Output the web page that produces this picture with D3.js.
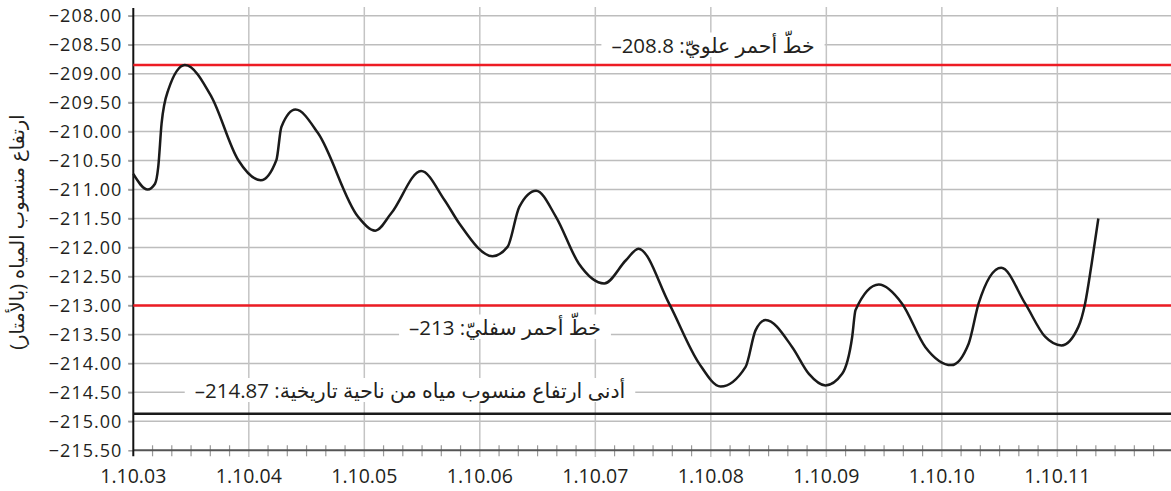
<!DOCTYPE html>
<html>
<head>
<meta charset="utf-8">
<script src="https://cdn.jsdelivr.net/npm/d3@7"></script>
<style>
  body { margin: 0; background: #fff; }
  svg { display: block; font-family: "Open Sans", "DejaVu Sans", sans-serif; }
</style>
</head>
<body>
<div id="chart"></div>
<script>
// years since 1.10.03 and water level (m)
var years = [0, 0.124, 0.188, 0.216, 0.245, 0.303, 0.447, 0.677, 0.908, 1.104, 1.239, 1.282, 1.404,
  1.6, 1.946, 2.095, 2.233, 2.492, 2.694, 2.824, 3.11, 3.24, 3.342, 3.487, 3.659, 3.858, 4.077,
  4.265, 4.373, 4.639, 4.898, 5.085, 5.301, 5.387, 5.474, 5.705, 5.849, 5.993, 6.137, 6.224, 6.253,
  6.454, 6.656, 6.858, 7.082, 7.232, 7.318, 7.514, 7.722, 7.894, 8.036, 8.182, 8.24, 8.297, 8.355]
var levels = [-210.73, -211.0, -210.9, -210.61, -209.86, -209.28, -208.85, -209.4, -210.49, -210.84,
  -210.49, -209.92, -209.62, -210.03, -211.47, -211.71, -211.41, -210.68, -211.18, -211.59, -212.15,
  -211.99, -211.3, -211.02, -211.47, -212.28, -212.62, -212.22, -212.02, -212.97, -214.0, -214.4, -214.06,
  -213.43, -213.25, -213.72, -214.18, -214.38, -214.18, -213.54, -213.08, -212.64, -212.97, -213.72, -214.03,
  -213.66, -212.97, -212.35, -212.97, -213.54, -213.69, -213.37, -212.97, -212.28, -211.5]

var xLabels = ["1.10.03", "1.10.04", "1.10.05", "1.10.06", "1.10.07", "1.10.08", "1.10.09", "1.10.10", "1.10.11"]
var yTicks = d3.range(-215.5, -207.99, 0.5)

var refValues = [-208.85, -213, -214.87]
var refLabels = ["خطّ أحمر علويّ: 208.8–", "خطّ أحمر سفليّ: 213–", "أدنى ارتفاع منسوب مياه من ناحية تاريخية: 214.87–"]
var yTitle = "ارتفاع منسوب المياه (بالأمتار)"

var width = 1171, height = 491

var svg = d3.select("#chart").append("svg")
  .attr("width", width)
  .attr("height", height)

var x = d3.scaleLinear().domain([0, 8.984]).range([133.3, 1171])
var y = d3.scaleLinear().domain([-215.5, -208]).range([450.3, 15.7])

// horizontal grid
svg.append("g").selectAll("line")
  .data(yTicks.slice(1))
  .enter().append("line")
  .attr("x1", 128).attr("x2", width)
  .attr("y1", d => y(d)).attr("y2", d => y(d))
  .attr("stroke", "#bdbdbd").attr("stroke-width", 1.5)

// vertical grid
svg.append("g").selectAll("line")
  .data(d3.range(1, xLabels.length))
  .enter().append("line")
  .attr("x1", d => x(d)).attr("x2", d => x(d))
  .attr("y1", 7).attr("y2", 457)
  .attr("stroke", "#c4c4c4").attr("stroke-width", 1.5)

// minor ticks on x axis
svg.append("g").selectAll("line")
  .data(d3.range(1, 54).filter(d => d % 6 != 0).map(d => d / 6))
  .enter().append("line")
  .attr("x1", d => x(d)).attr("x2", d => x(d))
  .attr("y1", y(-215.5) - 5).attr("y2", y(-215.5) + 6)
  .attr("stroke", "#999").attr("stroke-width", 1.2)

// x axis line
svg.append("line")
  .attr("x1", x(0)).attr("x2", width)
  .attr("y1", y(-215.5)).attr("y2", y(-215.5))
  .attr("stroke", "#555").attr("stroke-width", 2)

// y axis
var yAxis = d3.axisLeft(y)
  .tickValues(yTicks)
  .tickSize(5)
  .tickPadding(6)
  .tickFormat(d => "−" + Math.abs(d).toFixed(2))

svg.append("g")
  .attr("transform", "translate(" + x(0) + ",0)")
  .call(yAxis)
  .call(g => g.select(".domain").remove())
  .call(g => g.selectAll(".tick line").attr("stroke", "#999").attr("stroke-width", 1.5))
  .call(g => g.selectAll("text").attr("font-size", 18).attr("fill", "#231f20")
    .attr("font-family", "'Open Sans', sans-serif").attr("letter-spacing", 1))

svg.append("line")
  .attr("x1", x(0)).attr("x2", x(0))
  .attr("y1", 8).attr("y2", y(-215.5) + 6)
  .attr("stroke", "#111").attr("stroke-width", 2)

// x labels
svg.append("g").selectAll("text")
  .data(xLabels)
  .enter().append("text")
  .attr("x", (d, i) => x(i))
  .attr("y", 483)
  .attr("text-anchor", "middle")
  .attr("font-size", 19.5)
  .attr("fill", "#231f20")
  .text(d => d)

// reference lines
var refColors = ["#ed1c24", "#ed1c24", "#1a1a1a"]
svg.append("g").selectAll("line")
  .data(refValues)
  .enter().append("line")
  .attr("x1", x(0)).attr("x2", width)
  .attr("y1", d => y(d)).attr("y2", d => y(d))
  .attr("stroke", (d, i) => refColors[i]).attr("stroke-width", 2.5)

// water level curve
var line = d3.line()
  .x((d, i) => x(years[i]))
  .y(d => y(d))
  .curve(d3.curveMonotoneX)

svg.append("path")
  .datum(levels)
  .attr("d", line)
  .attr("fill", "none")
  .attr("stroke", "#1a1a1a")
  .attr("stroke-width", 2.5)

// annotation labels with white boxes
var labelPos = [[713, 53], [505, 335], [410, 398]]
refLabels.forEach(function(t, i) {
  var g = svg.append("g")
  var txt = g.append("text")
    .attr("x", labelPos[i][0]).attr("y", labelPos[i][1])
    .attr("text-anchor", "middle")
    .attr("direction", "rtl")
    .attr("font-size", 20.5)
    .attr("fill", "#231f20")
    .text(t)
  var bb = txt.node().getBBox()
  g.insert("rect", "text")
    .attr("x", bb.x - 10).attr("y", bb.y + 2)
    .attr("width", bb.width + 20).attr("height", bb.height - 4)
    .attr("fill", "#fff")
})

// y title
svg.append("text")
  .attr("transform", "translate(24,232) rotate(-90)")
  .attr("text-anchor", "middle")
  .attr("direction", "rtl")
  .attr("font-size", 19.5)
  .attr("fill", "#231f20")
  .text(yTitle)
</script>
</body>
</html>
